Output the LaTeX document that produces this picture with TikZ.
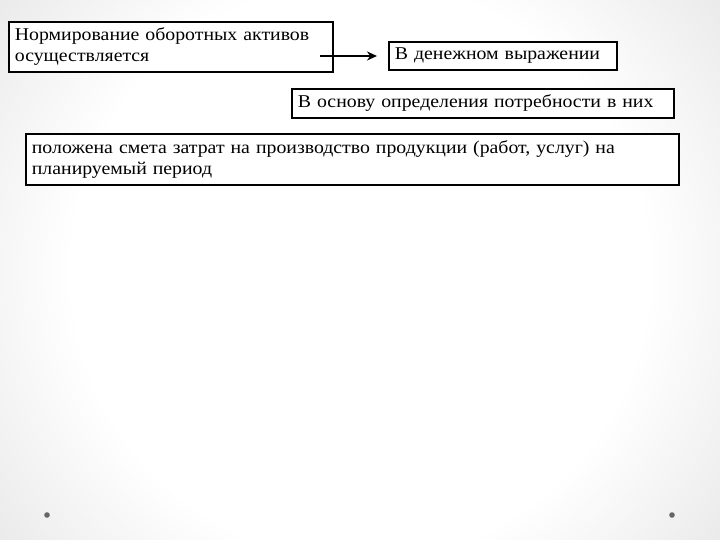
\documentclass[tikz,border=0pt]{standalone}
\usepackage{fontspec}
\setmainfont[FakeStretch=1.1]{Liberation Serif}
\usetikzlibrary{arrows.meta}
\pgfdeclareradialshading{vig}{\pgfpoint{0bp}{0bp}}{color(0bp)=(white); color(15bp)=(white); color(38bp)=(black!22); color(50bp)=(black!26)}
\begin{document}
\begin{tikzpicture}[x=1pt,y=-1pt,
  box/.style={draw=black,line width=1.8pt,fill=white,anchor=north west,inner xsep=6pt,inner ysep=0pt,align=left,
    font=\fontsize{18}{21}\selectfont},
  conn/.style={line width=2.2pt,-{Stealth[length=10pt,width=9pt]}}]
\useasboundingbox (0,0) rectangle (720,540);
\shade[shading=vig] (-120,-210) rectangle (840,750);
\fill[black!60] (47,515) circle (2.8);
\fill[black!60] (672,515) circle (2.8);
\node[box,minimum width=324,minimum height=50,text width=312] (a) at (8,21) {Нормирование оборотных активов\\осуществляется};
\node[box,minimum width=228,minimum height=28,text width=216] (b) at (388,41) {В денежном выражении};
\node[box,minimum width=382,minimum height=29,text width=370] (c) at (291,88) {В основу определения потребности в них};
\node[box,minimum width=653,minimum height=51,text width=641] (d) at (25,133) {положена смета затрат на производство продукции (работ, услуг) на\\планируемый период};
\coordinate (s) at (320,56);
\coordinate (e) at (377,56);
\draw[conn] (s) -- (e);
\end{tikzpicture}
\end{document}
